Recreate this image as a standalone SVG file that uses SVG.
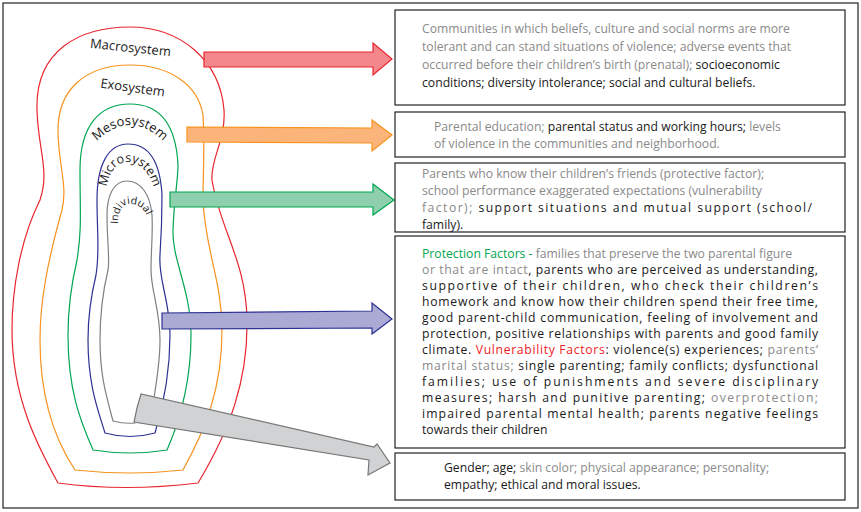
<svg xmlns="http://www.w3.org/2000/svg" width="861" height="512" viewBox="0 0 861 512">
<style>
.t{font-family:"Open Sans","Liberation Sans",sans-serif;font-size:12.2px;fill:#1a1a1a}
.g{fill:#8a8a8a}
.l{font-family:"Open Sans","Liberation Sans",sans-serif;font-size:13px;fill:#1a1a1a}
.box{fill:#fff;stroke:#222;stroke-width:1.2}
.c{fill:none;stroke-width:1.2}
</style>
<defs>
<path id="pMeso" d="M92,146 Q130,104 168,146"/>
<path id="pMicro" d="M106,208 C104,170 118,161 130,162 C145,164 156,182 157,208"/>
<path id="pInd" d="M118,234 C116,208 124,203 132,204 C143,205 148,215 149,225"/>
</defs>
<rect x="3" y="3" width="855" height="505" fill="#fff" stroke="#222" stroke-width="1.2"/>
<g id="rings">
<path class="c" stroke="#e8262e" d="M130,27 C80,27 35,50 37,110 C38,150 50,170 40,200 C20,240 12,290 12,330 C12,400 40,450 58,483 Q125,492 198,483 C230,430 248,380 247,320 C246,260 220,230 212,180 C210,160 226,140 224,110 C220,60 180,27 130,27 Z"/>
<path class="c" stroke="#f7931e" d="M130,65 C85,65 58,90 58,130 C58,165 68,185 62,210 C48,260 40,300 40,340 C40,400 55,440 75,470 Q130,476 183,470 C205,430 222,390 222,330 C222,280 205,250 203,200 C203,170 205,150 203,115 C198,85 170,65 130,65 Z"/>
<path class="c" stroke="#00a651" d="M130,104 C100,104 80,125 80,170 C80,210 82,230 77,260 C70,290 68,310 68,335 C68,390 80,420 93,450 Q130,456 167,450 C180,420 191,380 191,335 C191,290 172,260 173,230 C174,200 178,180 178,165 C176,125 160,104 130,104 Z"/>
<path class="c" stroke="#2e3192" d="M128,144 C108,144 97,165 97,200 C97,235 100,250 96,275 C90,300 88,320 88,340 C88,385 98,410 105,433 Q130,440 155,433 C165,400 170,370 170,335 C170,300 158,280 160,255 C162,225 162,210 162,195 C160,160 148,144 128,144 Z"/>
<path class="c" stroke="#808080" d="M127,181 C114,181 107,195 107,215 C107,240 110,260 108,270 C102,295 100,315 100,340 C100,375 106,395 113,421 Q124,424 135,423 L152,410 C156,385 160,365 160,340 C160,310 151,290 151,270 C151,250 153,235 152,215 C150,193 140,181 127,181 Z"/>
<text class="l" transform="translate(130,52) rotate(6)" text-anchor="middle">Macrosystem</text>
<text class="l" transform="translate(132,92) rotate(8)" text-anchor="middle">Exosystem</text>
<text class="l"><textPath href="#pMeso" startOffset="50%" text-anchor="middle">Mesosystem</textPath></text>
<text class="l" style="font-size:12.5px"><textPath href="#pMicro" startOffset="50%" text-anchor="middle">Microsystem</textPath></text>
<text class="l" style="font-size:10.5px"><textPath href="#pInd" startOffset="50%" text-anchor="middle">Individual</textPath></text>
</g>
<g id="connectors" stroke-width="1.2">
<polygon fill="#f4878c" stroke="#e8262e" points="204,52 373,52 373,43 392,59 373,75 373,67 204,67"/>
<polygon fill="#fbb47a" stroke="#f7931e" points="187,127 372,128 372,120 392,135 372,151 372,143 187,142"/>
<polygon fill="#8ed0ad" stroke="#00a651" points="170,192 373,192 373,184 394,200 373,215 373,207 170,207"/>
<polygon fill="#aaaad4" stroke="#2e3192" points="162,313 372,311 372,303 392,319 372,334 372,328 162,329"/>
<polygon fill="#d0d2d3" stroke="#777" points="137,409 141,395 374,448 377,445 390,464 368,476 369,461 134,423" transform="translate(0,-1)"/>
</g>
<g id="box1">
<rect class="box" x="395" y="10" width="450" height="95"/>
<text class="t" x="422" y="33"><tspan class="g">Communities in which beliefs, culture and social norms are more</tspan></text>
<text class="t" x="422" y="51"><tspan class="g">tolerant and can stand situations of violence; adverse events that</tspan></text>
<text class="t" x="422" y="69"><tspan class="g">occurred before their children’s birth (prenatal);</tspan> socioeconomic</text>
<text class="t" x="422" y="87">conditions; diversity intolerance; social and cultural beliefs.</text>
</g>
<g id="box2">
<rect class="box" x="395" y="112" width="450" height="45"/>
<text class="t" x="434" y="131"><tspan class="g">Parental education;</tspan> parental status and working hours; <tspan class="g">levels</tspan></text>
<text class="t" x="434" y="148"><tspan class="g">of violence in the communities and neighborhood.</tspan></text>
</g>
<g id="box3">
<rect class="box" x="395" y="163" width="450" height="69"/>
<text class="t" x="422" y="178"><tspan class="g">Parents who know their children’s friends (protective factor);</tspan></text>
<text class="t" x="422" y="195"><tspan class="g">school performance exaggerated expectations (vulnerability</tspan></text>
<text class="t" x="422" y="212" textLength="390" lengthAdjust="spacing"><tspan class="g">factor);</tspan> support situations and mutual support (school/</text>
<text class="t" x="422" y="229">family).</text>
</g>
<g id="box4">
<rect class="box" x="395" y="236" width="450" height="212"/>
<text class="t" x="422" y="258"><tspan fill="#00a651">Protection Factors -</tspan> <tspan class="g">families that preserve the two parental figure</tspan></text>
<text class="t" x="422" y="274" textLength="396" lengthAdjust="spacing"><tspan class="g">or that are intact</tspan>, parents who are perceived as understanding,</text>
<text class="t" x="422" y="290" textLength="396" lengthAdjust="spacing">supportive of their children, who check their children’s</text>
<text class="t" x="422" y="306" textLength="396" lengthAdjust="spacing">homework and know how their children spend their free time,</text>
<text class="t" x="422" y="322" textLength="396" lengthAdjust="spacing">good parent-child communication, feeling of involvement and</text>
<text class="t" x="422" y="338" textLength="396" lengthAdjust="spacing">protection, positive relationships with parents and good family</text>
<text class="t" x="422" y="354" textLength="396" lengthAdjust="spacing">climate. <tspan fill="#ed1c24">Vulnerability Factors</tspan>: violence(s) experiences;  <tspan class="g">parents’</tspan></text>
<text class="t" x="422" y="370" textLength="396" lengthAdjust="spacing"><tspan class="g">marital status;</tspan> single parenting; family conflicts; dysfunctional</text>
<text class="t" x="422" y="386" textLength="396" lengthAdjust="spacing">families; use of punishments and severe disciplinary</text>
<text class="t" x="422" y="402" textLength="396" lengthAdjust="spacing">measures; harsh and punitive parenting; <tspan class="g">overprotection;</tspan></text>
<text class="t" x="422" y="418" textLength="396" lengthAdjust="spacing">impaired parental mental health; parents negative feelings</text>
<text class="t" x="422" y="434">towards their children</text>
</g>
<g id="box5">
<rect class="box" x="395" y="453" width="450" height="47"/>
<text class="t" x="444" y="472">Gender; age; <tspan class="g">skin color; physical appearance; personality;</tspan></text>
<text class="t" x="444" y="489">empathy; ethical and moral issues.</text>
</g>
</svg>
